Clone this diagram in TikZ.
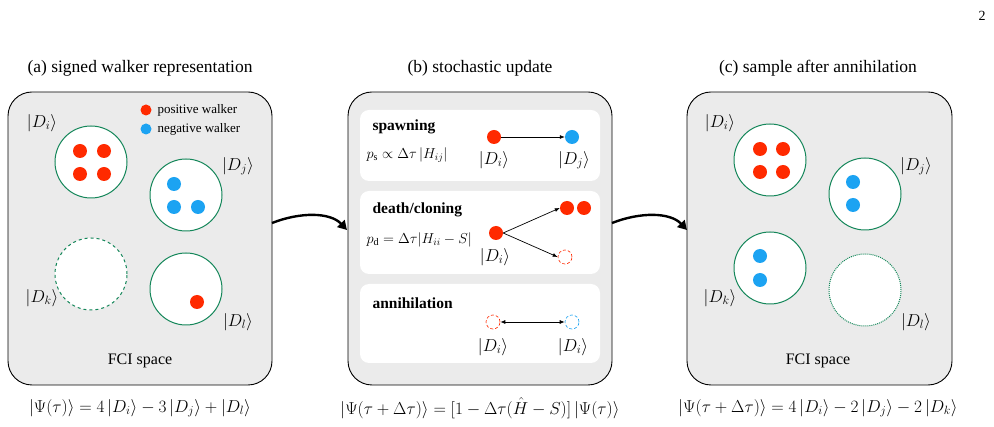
\documentclass[tikz,border=0pt]{standalone}
\usepackage{fontspec}
\setmainfont{Liberation Serif}
\usetikzlibrary{arrows.meta}
\definecolor{wred}{HTML}{FF2A00}
\definecolor{wblue}{HTML}{1CA3F2}
\definecolor{cgreen}{HTML}{15875A}
\definecolor{pgray}{HTML}{EBEBEB}
\begin{document}
\begin{tikzpicture}[x=1pt,y=-1pt,
 panel/.style={draw=black,line width=0.9pt,fill=pgray,rounded corners=24pt},
 sub/.style={fill=white,rounded corners=9pt,draw=none},
 det/.style={circle,draw=cgreen,line width=1pt,fill=white,minimum size=72pt,inner sep=0},
 detd/.style={det,dashed},
 detdot/.style={det,densely dotted},
 rw/.style={circle,fill=wred,minimum size=14pt,inner sep=0},
 bw/.style={circle,fill=wblue,minimum size=14pt,inner sep=0},
 rd/.style={circle,draw=wred,densely dashed,fill=white,minimum size=14pt,inner sep=0,line width=0.6pt},
 bd/.style={circle,draw=wblue,densely dashed,fill=white,minimum size=14pt,inner sep=0,line width=0.6pt},
 lab/.style={font=\fontsize{16.5}{18}\selectfont},
 ttl/.style={font=\fontsize{17.5}{19}\selectfont},
 eq/.style={font=\fontsize{18}{20}\selectfont},
 peq/.style={font=\fontsize{14.5}{16}\selectfont,anchor=west},
 hd/.style={font=\fontsize{15.5}{17}\selectfont\bfseries,anchor=west},
 big/.style={line width=2.4pt,-{Triangle[length=9pt,width=10pt]}},
 sm/.style={line width=0.7pt,-{Latex[length=5pt,width=4pt]}},
 smb/.style={line width=0.7pt,{Latex[length=5pt,width=4pt]}-{Latex[length=5pt,width=4pt]}}]
\useasboundingbox (0,0) rectangle (994,427);
\node[font=\fontsize{14}{16}\selectfont] (pg) at (982,16) {2};
% panel a
\node[ttl] (ta) at (140,68) {(a) signed walker representation};
\draw[panel] (8,92) rectangle (272,385);
\node[det] (ai) at (91,162) {};
\node[det] (aj) at (186,195) {};
\node[detd] (ak) at (91,274) {};
\node[det] (al) at (186,289) {};
\foreach \n/\x/\y in {a1/80/151,a2/104/151,a3/80/174,a4/104/174}{\node[rw] (\n) at (\x,\y) {};}
\foreach \n/\x/\y in {a5/174/184,a6/174/207,a7/198/207}{\node[bw] (\n) at (\x,\y) {};}
\node[rw] (a8) at (197,302) {};
\node[rw,minimum size=11pt] (lr) at (146,110) {};
\node[bw,minimum size=11pt] (lb) at (146,129) {};
\node[anchor=west,font=\fontsize{13}{15}\selectfont] (lrt) at (154,110) {positive walker};
\node[anchor=west,font=\fontsize{13}{15}\selectfont] (lbt) at (154,129) {negative walker};
\node[lab] (aDi) at (42,123) {$|D_i\rangle$};
\node[lab] (aDj) at (238,166) {$|D_j\rangle$};
\node[lab] (aDk) at (42,298) {$|D_k\rangle$};
\node[lab] (aDl) at (238,322) {$|D_l\rangle$};
\node[font=\fontsize{16}{18}\selectfont] (fa) at (140,361) {FCI space};
\node[eq] (ea) at (140,408) {$|\Psi(\tau)\rangle = 4\,|D_i\rangle - 3\,|D_j\rangle + |D_l\rangle$};
% panel b
\node[ttl] (tb) at (480,68) {(b) stochastic update};
\draw[panel] (348,92) rectangle (612,385);
\fill[sub] (360,110) rectangle (600,181);
\fill[sub] (360,191) rectangle (600,274);
\fill[sub] (360,284) rectangle (600,363);
\node[hd] (hs) at (369,127) {spawning};
\node[peq] (ps) at (363,155) {$p_{\mathrm{s}} \propto \Delta\tau\,|H_{ij}|$};
\node[rw] (s1) at (494,137) {};
\node[bw] (s2) at (572,137) {};
\draw[sm] (s1) -- (s2);
\node[lab] (s1l) at (494,160) {$|D_i\rangle$};
\node[lab] (s2l) at (574,160) {$|D_j\rangle$};
\node[hd] (hd) at (369,210) {death/cloning};
\node[peq] (pd) at (363,240) {$p_{\mathrm{d}} = \Delta\tau|H_{ii}-S|$};
\node[rw] (d0) at (496,233) {};
\node[rw] (d1) at (567,208) {};
\node[rw] (d2) at (584,208) {};
\node[rd] (d3) at (565,257) {};
\draw[sm] (d0.east) -- (d1.west);
\draw[sm] (d0.east) -- (d3.west);
\node[lab] (d0l) at (495,257) {$|D_i\rangle$};
\node[hd] (ha) at (369,303) {annihilation};
\node[rd] (n1) at (493,322) {};
\node[bd] (n2) at (572,322) {};
\draw[smb] (n1) -- (n2);
\node[lab] (n1l) at (493,347) {$|D_i\rangle$};
\node[lab] (n2l) at (573,347) {$|D_i\rangle$};
\node[eq] (eb) at (480,408) {$|\Psi(\tau+\Delta\tau)\rangle = [1-\Delta\tau(\hat{H} - S)]\,|\Psi(\tau)\rangle$};
% panel c
\node[ttl] (tc) at (818,68) {(c) sample after annihilation};
\draw[panel] (687,92) rectangle (952,385);
\node[det] (ci) at (770,160) {};
\node[det] (cj) at (865,194) {};
\node[det] (ck) at (770,268) {};
\node[detdot] (cl) at (865,290) {};
\foreach \n/\x/\y in {c1/760/149,c2/783/149,c3/760/172,c4/783/172}{\node[rw] (\n) at (\x,\y) {};}
\foreach \n/\x/\y in {c5/853/182,c6/853/205,c7/760/256,c8/760/280}{\node[bw] (\n) at (\x,\y) {};}
\node[lab] (cDi) at (720,123) {$|D_i\rangle$};
\node[lab] (cDj) at (916,166) {$|D_j\rangle$};
\node[lab] (cDk) at (720,298) {$|D_k\rangle$};
\node[lab] (cDl) at (916,322) {$|D_l\rangle$};
\node[font=\fontsize{16}{18}\selectfont] (fc) at (818,361) {FCI space};
\node[eq] (ec) at (818,408) {$|\Psi(\tau+\Delta\tau)\rangle = 4\,|D_i\rangle - 2\,|D_j\rangle - 2\,|D_k\rangle$};
% big arrows
\coordinate (a1s) at (272,223);
\coordinate (a1e) at (347,230);
\coordinate (a2s) at (612,223);
\coordinate (a2e) at (687,230);
\draw[big] (a1s) .. controls (300,212) and (330,212) .. (a1e);
\draw[big] (a2s) .. controls (640,212) and (670,212) .. (a2e);
\end{tikzpicture}
\end{document}
